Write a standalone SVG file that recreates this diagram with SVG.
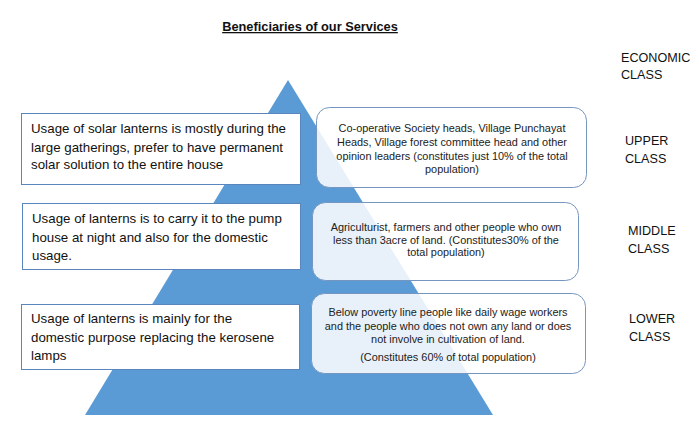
<svg xmlns="http://www.w3.org/2000/svg" width="699" height="437" viewBox="0 0 699 437">
<style>
text{font-family:"Liberation Sans",Arial,sans-serif;fill:#111}
.lb{fill:#fff;stroke:#5b86bd;stroke-width:1}
.rb{fill:#fff;fill-opacity:0.86;stroke:#7596c0;stroke-width:1}
.lt{font-size:13.3px}
.rt{font-size:10.9px;text-anchor:middle;fill:#222}
.cl{font-size:12.6px}
</style>
<rect width="699" height="437" fill="#fff"/>
<g id="title"><text x="310" y="31" text-anchor="middle" style="font-size:12.8px;font-weight:bold;text-decoration:underline">Beneficiaries of our Services</text></g>
<g id="pyramid"><polygon points="288,80 85,415 493,415" fill="#5b9bd5"/></g>
<g id="connectors"></g>
<g id="usage-upper">
<rect class="lb" x="21.5" y="113.5" width="279" height="71"/>
<text class="lt" x="31" y="133">Usage of solar lanterns is mostly during the</text>
<text class="lt" x="31" y="152">large gatherings, prefer to have permanent</text>
<text class="lt" x="31" y="169">solar solution to the entire house</text>
</g>
<g id="usage-middle">
<rect class="lb" x="22.5" y="203.5" width="278" height="66"/>
<text class="lt" x="32" y="223">Usage of lanterns is to carry it to the pump</text>
<text class="lt" x="32" y="242">house at night and also for the domestic</text>
<text class="lt" x="32" y="260">usage.</text>
</g>
<g id="usage-lower">
<rect class="lb" x="21.5" y="304.5" width="278" height="65"/>
<text class="lt" x="31" y="323">Usage of lanterns is mainly for the</text>
<text class="lt" x="31" y="342">domestic purpose replacing the kerosene</text>
<text class="lt" x="31" y="360">lamps</text>
</g>
<g id="upper-desc">
<rect class="rb" x="316.5" y="107.5" width="270" height="80" rx="13"/>
<text class="rt" x="452" y="132">Co-operative Society heads, Village Punchayat</text>
<text class="rt" x="452" y="146">Heads, Village forest committee head and other</text>
<text class="rt" x="452" y="160">opinion leaders (constitutes just 10% of the total</text>
<text class="rt" x="452" y="173">population)</text>
</g>
<g id="middle-desc">
<rect class="rb" x="312.5" y="202.5" width="266" height="78" rx="13"/>
<text class="rt" x="446" y="231">Agriculturist, farmers and other people who own</text>
<text class="rt" x="446" y="244">less than 3acre of land. (Constitutes30% of the</text>
<text class="rt" x="446" y="256">total population)</text>
</g>
<g id="lower-desc">
<rect class="rb" x="311.5" y="293.5" width="274" height="80" rx="13"/>
<text class="rt" x="448" y="316">Below poverty line people like daily wage workers</text>
<text class="rt" x="448" y="330">and the people who does not own any land or does</text>
<text class="rt" x="448" y="343">not involve in cultivation of land.</text>
<text class="rt" x="448" y="361">(Constitutes 60% of total population)</text>
</g>
<g id="class-labels">
<text class="cl" x="621" y="62">ECONOMIC</text>
<text class="cl" x="621" y="79">CLASS</text>
<text class="cl" x="625" y="145">UPPER</text>
<text class="cl" x="625" y="163">CLASS</text>
<text class="cl" x="628" y="235">MIDDLE</text>
<text class="cl" x="628" y="253">CLASS</text>
<text class="cl" x="629" y="323">LOWER</text>
<text class="cl" x="629" y="341">CLASS</text>
</g>
</svg>
